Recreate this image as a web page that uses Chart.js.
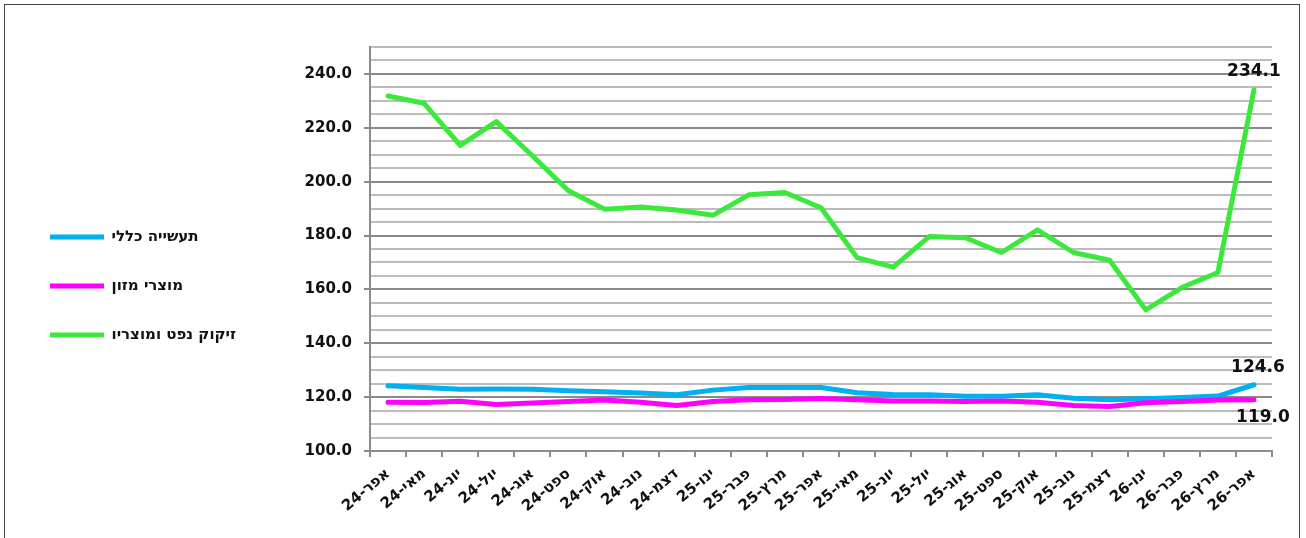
<!DOCTYPE html>
<html lang="he">
<head>
<meta charset="utf-8">
<title>מדד מחירים</title>
<script src="https://cdn.jsdelivr.net/npm/chart.js@4.4.1/dist/chart.umd.min.js"></script>
<style>
    html, body { margin: 0; padding: 0; background: #fff; }
    #wrap { position: relative; width: 1306px; height: 538px; }
    #frame { position: absolute; left: 4px; top: 4px; width: 1294px; height: 600px; border: 1px solid #444; pointer-events: none; }
</style>
</head>
<body>
<div id="wrap">
    <canvas id="chart" width="1306" height="538"></canvas>
    <div id="frame"></div>
</div>
<script>
// Data
const months = ['אפר-24', 'מאי-24', 'יונ-24', 'יול-24', 'אוג-24', 'ספט-24', 'אוק-24', 'נוב-24', 'דצמ-24',
    'ינו-25', 'פבר-25', 'מרץ-25', 'אפר-25', 'מאי-25', 'יונ-25', 'יול-25', 'אוג-25', 'ספט-25', 'אוק-25',
    'נוב-25', 'דצמ-25', 'ינו-26', 'פבר-26', 'מרץ-26', 'אפר-26'];
const seriesNames = ['תעשייה כללי', 'מוצרי מזון', 'זיקוק נפט ומוצריו'];
const generalIndustry = [124.2, 123.6, 122.9, 123.0, 122.9, 122.4, 122.0, 121.5, 120.9, 122.6, 123.6, 123.6, 123.6,
    121.6, 121.0, 120.9, 120.3, 120.3, 120.9, 119.6, 119.0, 119.4, 119.9, 120.4, 124.6];
const foodProducts = [118.1, 118.0, 118.5, 117.3, 117.8, 118.4, 118.9, 118.1, 116.9, 118.4, 119.0, 119.1, 119.5,
    119.0, 118.6, 118.6, 118.4, 118.6, 118.1, 116.9, 116.5, 117.9, 118.4, 118.9, 119.0];
const oilRefining = [231.8, 229.1, 213.5, 222.3, 209.6, 196.6, 189.8, 190.6, 189.5, 187.5, 195.1, 196.0, 190.3,
    171.8, 168.3, 179.6, 179.2, 173.7, 182.1, 173.7, 170.8, 152.4, 160.7, 166.3, 234.1];
const yMin = 100;
const yMax = 250;
const yStep = 5;
const yLabelStep = 20;

const fontFamily = "'DejaVu Sans', 'Liberation Sans', Arial, sans-serif";

// Last-value labels
const endLabels = {
    id: 'endLabels',
    afterDatasetsDraw(chart) {
        const ctx = chart.ctx;
        const offsets = [{ dx: 4, dy: -17 }, { dx: 9, dy: 18 }, { dx: 0, dy: -18 }];
        ctx.save();
        ctx.font = 'bold 17px ' + fontFamily;
        ctx.fillStyle = '#111';
        ctx.textAlign = 'center';
        ctx.textBaseline = 'middle';
        chart.data.datasets.forEach((ds, i) => {
            const meta = chart.getDatasetMeta(i);
            const pt = meta.data[meta.data.length - 1];
            const value = ds.data[ds.data.length - 1];
            ctx.fillText(value.toFixed(1), pt.x + offsets[i].dx, pt.y + offsets[i].dy);
        });
        ctx.restore();
    }
};

function isMajor(value) {
    return (value - yMin) % yLabelStep === 0;
}

const ctx = document.getElementById('chart').getContext('2d');
new Chart(ctx, {
    type: 'line',
    data: {
        labels: months,
        datasets: [
            { label: seriesNames[0], data: generalIndustry, borderColor: '#00b0f0', order: 2 },
            { label: seriesNames[1], data: foodProducts, borderColor: '#ff00ff', order: 1 },
            { label: seriesNames[2], data: oilRefining, borderColor: '#3de83d', order: 3 }
        ].map(ds => Object.assign(ds, {
            backgroundColor: ds.borderColor,
            borderWidth: 5,
            borderCapStyle: 'round',
            borderJoinStyle: 'round',
            pointRadius: 0,
            tension: 0,
            fill: false
        }))
    },
    options: {
        responsive: false,
        animation: false,
        layout: { padding: { left: 16, right: 34, top: 47, bottom: 0 } },
        plugins: {
            tooltip: { enabled: false },
            legend: {
                position: 'left',
                align: 'start',
                // blank title only pushes the items down to where the original sits
                title: { display: true, text: ' ', padding: { top: 134, bottom: 0 }, font: { size: 12 } },
                labels: {
                    usePointStyle: true,
                    pointStyle: 'line',
                    pointStyleWidth: 54,
                    padding: 34,
                    color: '#111',
                    font: { family: fontFamily, size: 15, weight: 'bold' },
                    sort: (a, b) => a.datasetIndex - b.datasetIndex
                }
            }
        },
        scales: {
            x: {
                offset: true,
                grid: {
                    offset: true,
                    drawOnChartArea: false,
                    drawTicks: true,
                    tickLength: 6,
                    color: '#8c8c8c',
                    lineWidth: 2
                },
                border: { color: '#8c8c8c', width: 2 },
                ticks: {
                    autoSkip: false,
                    minRotation: 40,
                    maxRotation: 40,
                    padding: 8,
                    color: '#111',
                    font: { family: fontFamily, size: 15, weight: 'bold' }
                },
                afterFit(scale) { scale.height = 87; }
            },
            y: {
                min: yMin,
                max: yMax,
                grid: {
                    tickLength: 6,
                    color: c => isMajor(c.tick.value) ? '#8a8a8a' : '#bcbcbc',
                    tickColor: c => isMajor(c.tick.value) ? '#8a8a8a' : 'rgba(0,0,0,0)',
                    lineWidth: 2
                },
                border: { color: '#8c8c8c', width: 2 },
                ticks: {
                    stepSize: yStep,
                    autoSkip: false,
                    padding: 12,
                    color: '#111',
                    font: { family: fontFamily, size: 15, weight: 'bold' },
                    callback: v => isMajor(v) && v < yMax ? v.toFixed(1) : ''
                },
                afterFit(scale) {
                    const lg = scale.chart.legend;
                    const used = 16 + (lg && lg.width ? lg.width : 230);
                    scale.width = 370 - used;
                }
            }
        }
    },
    plugins: [endLabels]
});
</script>
</body>
</html>
